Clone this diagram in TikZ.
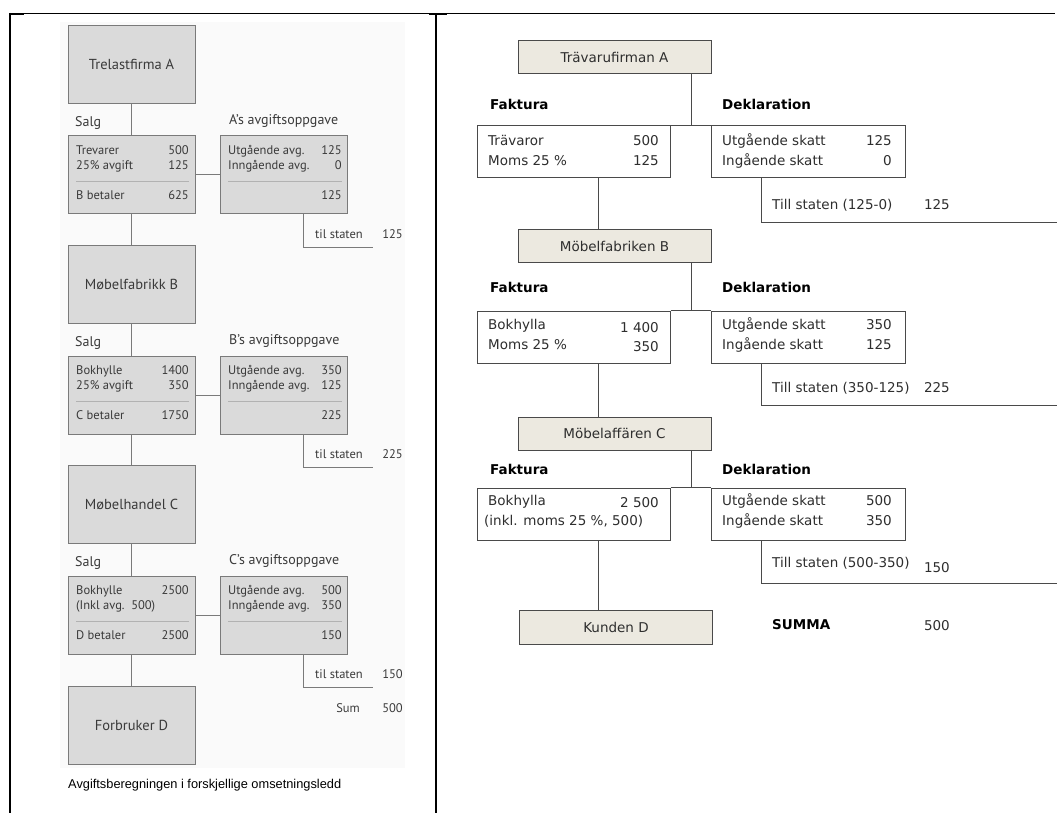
\documentclass[tikz,border=0pt]{standalone}
\usepackage{fontspec}
\newfontfamily\lsans{PT Sans}
\newfontfamily\capsans{Liberation Sans}
\newfontfamily\rsans{DejaVu Sans}
\usepackage{tikz}
\definecolor{lgray}{HTML}{DADADA}
\definecolor{lline}{HTML}{7A7A7A}
\definecolor{ltext}{HTML}{3A3A3A}
\definecolor{rfill}{HTML}{ECE9E0}
\definecolor{rline}{HTML}{4A4A4A}
\definecolor{rtext}{HTML}{2E2E2E}
\tikzset{
  firm/.style={draw=lline, fill=lgray, line width=1pt, minimum width=127pt, minimum height=78pt, inner sep=0pt, text=ltext, font=\lsans\fontsize{14.5}{16}\selectfont},
  sbox/.style={draw=lline, fill=lgray, line width=1pt, minimum width=127pt, minimum height=78pt, inner sep=0pt},
  lhead/.style={inner sep=0pt, text=ltext, text height=1.5ex, text depth=.3ex, font=\lsans\fontsize{14}{16}\selectfont},
  ltxt/.style={inner sep=0pt, text=ltext, text height=1.5ex, text depth=.3ex, font=\lsans\fontsize{12.5}{14}\selectfont},
  lconn/.style={draw=lline, line width=1pt},
  lrule/.style={draw=gray!60, line width=0.8pt},
  rfirm/.style={draw=rline, fill=rfill, line width=1pt, minimum width=193pt, minimum height=33pt, inner sep=0pt, text=rtext, font=\rsans\fontsize{13.5}{16}\selectfont},
  rbox/.style={draw=rline, fill=white, line width=1pt, minimum height=52pt, inner sep=0pt},
  rhead/.style={inner sep=0pt, text=black, text height=1.5ex, text depth=.3ex, font=\rsans\bfseries\fontsize{13.5}{16}\selectfont},
  rtxt/.style={inner sep=0pt, text=rtext, text height=1.5ex, text depth=.3ex, font=\rsans\fontsize{13.5}{16}\selectfont},
  rconn/.style={draw=rline, line width=1pt}
}
\begin{document}
\begin{tikzpicture}[x=1pt, y=-1pt]
  \useasboundingbox (0,0) rectangle (1057,813);
  \fill[gray!4] (60,22) rectangle (405,768);

  % frame
  \draw[line width=1pt] (10,14) -- (1055,14);
  \draw[line width=2pt] (10,14) -- (24,14);
  \draw[line width=2pt] (429,14) -- (447,14);
  \draw[line width=2.6pt] (10,13) -- (10,813);
  \draw[line width=2.6pt] (436,14) -- (436,813);

  % left panel
  \coordinate (tx) at (303,0);
  \coordinate (te) at (373,0);

  \node[firm] (A) at (131.5,64.5) {Trelastfirma A};
  \node[lhead, anchor=west] (sA) at (75,124) {Salg};
  \node[lhead, anchor=west] (oA) at (229,122) {A’s avgiftsoppgave};
  \node[sbox] (fA) at (131.5,175) {};
  \node[sbox] (rA) at (284,175) {};
  \node[ltxt, anchor=west] at (76,152) {Trevarer};
  \node[ltxt, anchor=east] at (189,152) {500};
  \node[ltxt, anchor=west] at (76,167) {25\% avgift};
  \node[ltxt, anchor=east] at (189,167) {125};
  \draw[lrule] (76,181) -- (189,181);
  \node[ltxt, anchor=west] at (76,197) {B betaler};
  \node[ltxt, anchor=east] at (189,197) {625};
  \node[ltxt, anchor=west] at (228,152) {Utgående avg.};
  \node[ltxt, anchor=east] at (342,152) {125};
  \node[ltxt, anchor=west] at (228,167) {Inngående avg.};
  \node[ltxt, anchor=east] at (342,167) {0};
  \draw[lrule] (228,181) -- (342,181);
  \node[ltxt, anchor=east] at (342,197) {125};
  \node[ltxt, anchor=west] (tA) at (315,236) {til staten};
  \node[ltxt, anchor=east] (bA) at (403,236) {125};

  \node[firm] (B) at (131.5,284.5) {Møbelfabrikk B};
  \node[lhead, anchor=west] (sB) at (75,344) {Salg};
  \node[lhead, anchor=west] (oB) at (229,342) {B’s avgiftsoppgave};
  \node[sbox] (fB) at (131.5,395) {};
  \node[sbox] (rB) at (284,395) {};
  \node[ltxt, anchor=west] at (76,372) {Bokhylle};
  \node[ltxt, anchor=east] at (189,372) {1400};
  \node[ltxt, anchor=west] at (76,387) {25\% avgift};
  \node[ltxt, anchor=east] at (189,387) {350};
  \draw[lrule] (76,401) -- (189,401);
  \node[ltxt, anchor=west] at (76,417) {C betaler};
  \node[ltxt, anchor=east] at (189,417) {1750};
  \node[ltxt, anchor=west] at (228,372) {Utgående avg.};
  \node[ltxt, anchor=east] at (342,372) {350};
  \node[ltxt, anchor=west] at (228,387) {Inngående avg.};
  \node[ltxt, anchor=east] at (342,387) {125};
  \draw[lrule] (228,401) -- (342,401);
  \node[ltxt, anchor=east] at (342,417) {225};
  \node[ltxt, anchor=west] (tB) at (315,456) {til staten};
  \node[ltxt, anchor=east] (bB) at (403,456) {225};

  \node[firm] (C) at (131.5,504.5) {Møbelhandel C};
  \node[lhead, anchor=west] (sC) at (75,564) {Salg};
  \node[lhead, anchor=west] (oC) at (229,562) {C’s avgiftsoppgave};
  \node[sbox] (fC) at (131.5,615) {};
  \node[sbox] (rC) at (284,615) {};
  \node[ltxt, anchor=west] at (76,592) {Bokhylle};
  \node[ltxt, anchor=east] at (189,592) {2500};
  \node[ltxt, anchor=west] at (76,607) {(Inkl avg.\ \ 500)};
  \draw[lrule] (76,621) -- (189,621);
  \node[ltxt, anchor=west] at (76,637) {D betaler};
  \node[ltxt, anchor=east] at (189,637) {2500};
  \node[ltxt, anchor=west] at (228,592) {Utgående avg.};
  \node[ltxt, anchor=east] at (342,592) {500};
  \node[ltxt, anchor=west] at (228,607) {Inngående avg.};
  \node[ltxt, anchor=east] at (342,607) {350};
  \draw[lrule] (228,621) -- (342,621);
  \node[ltxt, anchor=east] at (342,637) {150};
  \node[ltxt, anchor=west] (tC) at (315,676) {til staten};
  \node[ltxt, anchor=east] (bC) at (403,676) {150};

  \node[firm] (D) at (131.5,725) {Forbruker D};
  \node[ltxt, anchor=east] (sum) at (360,710) {Sum};
  \node[ltxt, anchor=east] (sumv) at (403,710) {500};
  \node[inner sep=0pt, anchor=west, text=black, font=\capsans\fontsize{12.8}{15}\selectfont] (cap) at (68,785) {Avgiftsberegningen i forskjellige omsetningsledd};

  \draw[lconn] (A) -- (fA);
  \draw[lconn] (fA) -- (rA);
  \draw[lconn] (rA.south -| tx) -- (tx |- 0,247) -- (te |- 0,247);
  \draw[lconn] (fA) -- (B);
  \draw[lconn] (B) -- (fB);
  \draw[lconn] (fB) -- (rB);
  \draw[lconn] (rB.south -| tx) -- (tx |- 0,467) -- (te |- 0,467);
  \draw[lconn] (fB) -- (C);
  \draw[lconn] (C) -- (fC);
  \draw[lconn] (fC) -- (rC);
  \draw[lconn] (rC.south -| tx) -- (tx |- 0,687) -- (te |- 0,687);
  \draw[lconn] (fC) -- (D);

  % right panel
  \coordinate (jx) at (691,0);
  \coordinate (vx) at (598,0);
  \coordinate (sx) at (761,0);
  \coordinate (ex) at (1057,0);

  \node[rfirm] (a) at (614.5,57.5) {Trävarufirman A};
  \node[rhead, anchor=west] (ka) at (490,107) {Faktura};
  \node[rhead, anchor=west] (da) at (722,107) {Deklaration};
  \node[rbox, minimum width=193pt] (fa) at (573.5,152) {};
  \node[rbox, minimum width=194pt] (ra) at (808,152) {};
  \node[rtxt, anchor=west] at (488,143) {Trävaror};
  \node[rtxt, anchor=east] at (659,143) {500};
  \node[rtxt, anchor=west] at (488,163) {Moms 25 \%};
  \node[rtxt, anchor=east] at (659,163) {125};
  \node[rtxt, anchor=west] at (722,143) {Utgående skatt};
  \node[rtxt, anchor=east] at (892,143) {125};
  \node[rtxt, anchor=west] at (722,163) {Ingående skatt};
  \node[rtxt, anchor=east] at (892,163) {0};
  \node[rtxt, anchor=west] (ta) at (772,207) {Till staten (125-0)};
  \node[rtxt, anchor=east] (va) at (950,207) {125};

  \node[rfirm] (b) at (614.5,246) {Möbelfabriken B};
  \node[rhead, anchor=west] (kb) at (490,290) {Faktura};
  \node[rhead, anchor=west] (db) at (722,290) {Deklaration};
  \node[rbox, minimum width=193pt] (fb) at (573.5,337) {};
  \node[rbox, minimum width=194pt] (rb) at (808,337) {};
  \node[rtxt, anchor=west] at (488,327) {Bokhylla};
  \node[rtxt, anchor=east] at (659,330) {1 400};
  \node[rtxt, anchor=west] at (488,347) {Moms 25 \%};
  \node[rtxt, anchor=east] at (659,349) {350};
  \node[rtxt, anchor=west] at (722,327) {Utgående skatt};
  \node[rtxt, anchor=east] at (892,327) {350};
  \node[rtxt, anchor=west] at (722,347) {Ingående skatt};
  \node[rtxt, anchor=east] at (892,347) {125};
  \node[rtxt, anchor=west] (tb) at (772,390) {Till staten (350-125)};
  \node[rtxt, anchor=east] (vb) at (950,390) {225};

  \node[rfirm] (c) at (614.5,433.5) {Möbelaffären C};
  \node[rhead, anchor=west] (kc) at (490,472) {Faktura};
  \node[rhead, anchor=west] (dc) at (722,472) {Deklaration};
  \node[rbox, minimum width=193pt] (fc) at (573.5,514) {};
  \node[rbox, minimum width=194pt] (rc) at (808,514) {};
  \node[rtxt, anchor=west] at (488,503) {Bokhylla};
  \node[rtxt, anchor=east] at (659,505) {2 500};
  \node[rtxt, anchor=west] at (484,523) {(inkl. moms 25 \%, 500)};
  \node[rtxt, anchor=west] at (722,503) {Utgående skatt};
  \node[rtxt, anchor=east] at (892,503) {500};
  \node[rtxt, anchor=west] at (722,523) {Ingående skatt};
  \node[rtxt, anchor=east] at (892,523) {350};
  \node[rtxt, anchor=west] (tc) at (772,565) {Till staten (500-350)};
  \node[rtxt, anchor=east] (vc) at (950,570) {150};

  \node[rfirm, minimum height=34pt] (d) at (616,627) {Kunden D};
  \node[rhead, anchor=west] (su) at (772,627) {SUMMA};
  \node[rtxt, anchor=east] (sv) at (950,628) {500};

  \draw[rconn] (fa.north east) -- (ra.north west);
  \draw[rconn] (a.south -| jx) -- (fa.north -| jx);
  \draw[rconn] (ra.south -| sx) -- (sx |- 0,222) -- (ex |- 0,222);
  \draw[rconn] (fa.south -| vx) -- (b.north -| vx);
  \draw[rconn] (fb.north east) -- (rb.north west);
  \draw[rconn] (b.south -| jx) -- (fb.north -| jx);
  \draw[rconn] (rb.south -| sx) -- (sx |- 0,405) -- (ex |- 0,405);
  \draw[rconn] (fb.south -| vx) -- (c.north -| vx);
  \draw[rconn] (fc.north east) -- (rc.north west);
  \draw[rconn] (c.south -| jx) -- (fc.north -| jx);
  \draw[rconn] (rc.south -| sx) -- (sx |- 0,583) -- (ex |- 0,583);
  \draw[rconn] (fc.south -| vx) -- (d.north -| vx);
\end{tikzpicture}
\end{document}
